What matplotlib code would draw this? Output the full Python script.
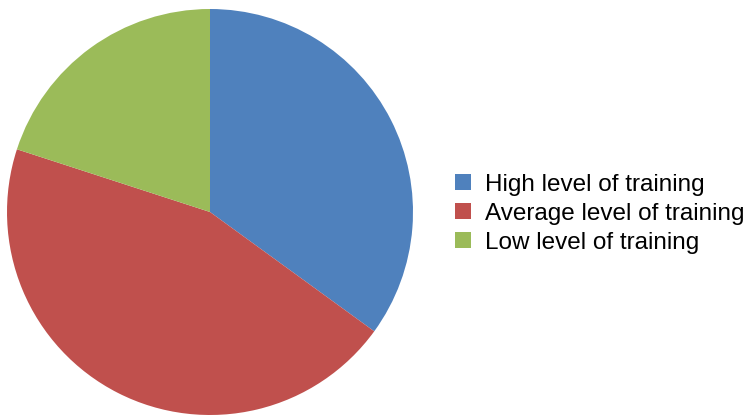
import matplotlib.pyplot as plt
from matplotlib.patches import Patch

labels = ['High level of training', 'Average level of training', 'Low level of training']
shares = [35, 45, 20]
colors = ['#4F81BD', '#C0504D', '#9BBB59']

plt.rcParams['font.family'] = ['Liberation Sans', 'DejaVu Sans']

fig = plt.figure(figsize=(7.49, 4.15), dpi=100)
ax = fig.add_axes([7 / 749, 0 / 415, 406 / 749, 406 / 415])
ax.pie(shares, colors=colors, startangle=90, counterclock=False,
       wedgeprops={'linewidth': 0})
ax.set_xlim(-1.0, 1.0)
ax.set_ylim(-1.0, 1.0)
ax.set_aspect('equal')

handles = [Patch(facecolor=c, edgecolor='none') for c in colors]
fig.legend(handles, labels, loc='center left', bbox_to_anchor=(455 / 749, 0.485),
           frameon=False, fontsize=17.5, handlelength=0.64, handleheight=0.64,
           handletextpad=0.58, labelspacing=0.28, borderpad=0, borderaxespad=0)

fig.savefig('out.png', dpi=100)
